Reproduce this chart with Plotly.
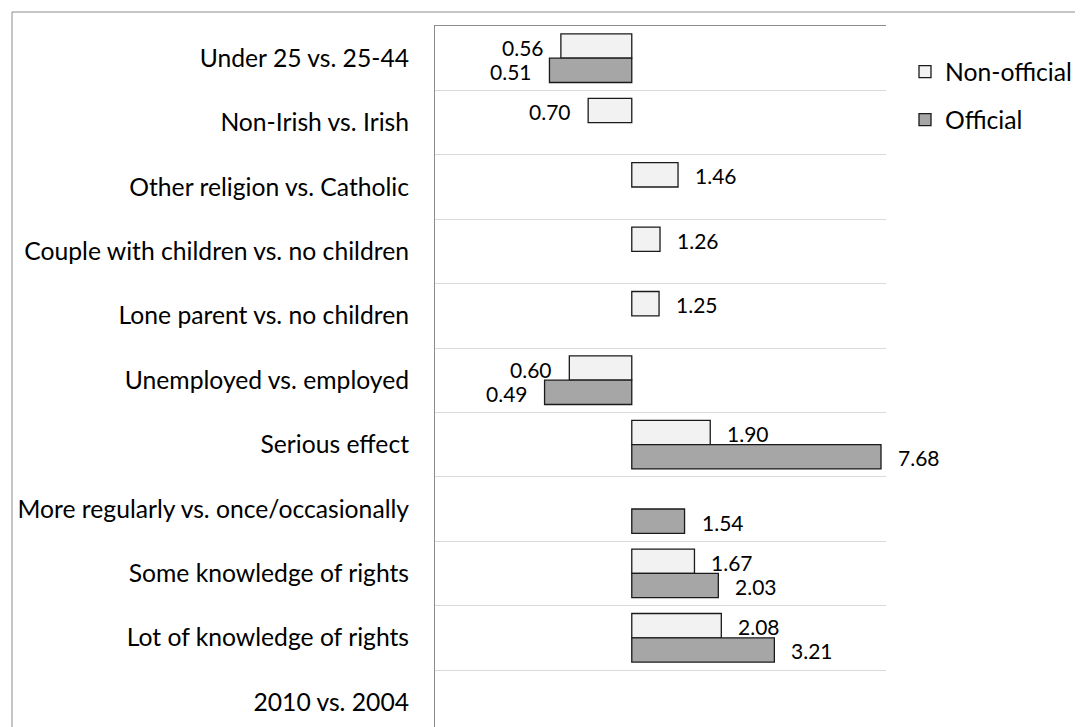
import math
import plotly.graph_objects as go

# ---------------- data ----------------
categories = [
    "Under 25 vs. 25-44",
    "Non-Irish vs. Irish",
    "Other religion vs. Catholic",
    "Couple with children vs. no children",
    "Lone parent vs. no children",
    "Unemployed vs. employed",
    "Serious effect",
    "More regularly vs. once/occasionally",
    "Some knowledge of rights",
    "Lot of knowledge of rights",
    "2010 vs. 2004",
]
non_official = [0.56, 0.70, 1.46, 1.26, 1.25, 0.60, 1.90, None, 1.67, 2.08, None]
official = [0.51, None, None, None, None, 0.49, 7.68, 1.54, 2.03, 3.21, None]
series_names = ["Non-official", "Official"]
reference_value = 1.0          # odds ratio baseline
x_axis_min, x_axis_max = 0.2, 8.0

# ---------------- layout constants ----------------
W, H = 1083, 727
L, R, T, B = 427, 205, 18, 0
plot_w = W - L - R
plot_h = H - T - B
cat_px = 64.4
bargap = 0.245
FONT = "Lato, Carlito, Calibri, sans-serif"
fill_colors = ["#f2f2f2", "#a6a6a6"]
edge_color = "#1a1a1a"
axis_grey = "#8c8c8c"
grid_grey = "#d9d9d9"
label_size = 21
cat_size = 24.7

series_values = [non_official, official]

fig = go.Figure()
for name, vals, col in zip(series_names, series_values, fill_colors):
    fig.add_trace(go.Bar(
        y=categories,
        x=[(v - reference_value) if v is not None else None for v in vals],
        base=reference_value,
        orientation="h",
        name=name,
        legendgroup=name,
        marker=dict(color=col, line=dict(color=edge_color, width=1.3)),
        hoverinfo="skip",
    ))

# data labels
bar_half_offset = (1 - bargap) / 4 * cat_px
for k, vals in enumerate(series_values):
    shift = bar_half_offset if k == 0 else -bar_half_offset
    for c, v in zip(categories, vals):
        if v is None:
            continue
        pos = v >= reference_value
        fig.add_annotation(
            x=math.log10(v), y=c, xref="x", yref="y",
            text=f"{v:.2f}", showarrow=False,
            xanchor="left" if pos else "right",
            xshift=15 if pos else -15,
            yshift=shift - 1,
            font=dict(family=FONT, size=label_size, color="#000000"),
        )

y_top = -0.5
y_bottom = y_top + plot_h / cat_px
lo, hi = math.log10(x_axis_min), math.log10(x_axis_max)
ref_pos = (math.log10(reference_value) - lo) / (hi - lo)

# outer chart border (extends past the visible page)
fig.add_shape(type="rect", xref="paper", yref="paper",
              x0=(4 - L) / plot_w, x1=(W + 20 - L) / plot_w,
              y0=-30 / plot_h, y1=(H - 4) / plot_h,
              line=dict(color=axis_grey, width=1), fillcolor="rgba(0,0,0,0)",
              layer="below")

fig.update_layout(
    width=W, height=H,
    margin=dict(l=L, r=R, t=T, b=B, autoexpand=False),
    paper_bgcolor="white", plot_bgcolor="white",
    barmode="group", bargap=bargap, bargroupgap=0,
    font=dict(family=FONT, size=label_size, color="#000000"),
    xaxis=dict(type="log", range=[lo, hi], showgrid=False, zeroline=False,
               showticklabels=False, ticks="", showline=True, side="top",
               linecolor=axis_grey, linewidth=1),
    yaxis=dict(type="category", categoryorder="array", categoryarray=categories,
               range=[y_bottom, y_top], tickson="boundaries", showgrid=True,
               gridcolor=grid_grey, gridwidth=1, ticks="", showline=True,
               linecolor=axis_grey, linewidth=1, ticklabelstandoff=20,
               tickfont=dict(family=FONT, size=cat_size, color="#000000")),
    yaxis2=dict(overlaying="y", anchor="free", position=ref_pos, type="linear",
                range=[y_bottom, y_top],
                tickmode="array",
                tickvals=[i - 0.5 for i in range(len(categories) + 1)],
                ticks="outside", ticklen=7, tickcolor=axis_grey, tickwidth=1,
                showline=True, linecolor=axis_grey, linewidth=1,
                showticklabels=False, showgrid=False, zeroline=False),
    legend=dict(x=(897 - L) / plot_w, xanchor="left", y=(H - 41) / plot_h,
                yanchor="top", traceorder="grouped", tracegroupgap=13,
                bgcolor="rgba(0,0,0,0)",
                font=dict(family=FONT, size=cat_size, color="#000000")),
    showlegend=True,
)

fig.write_html("out.html")
